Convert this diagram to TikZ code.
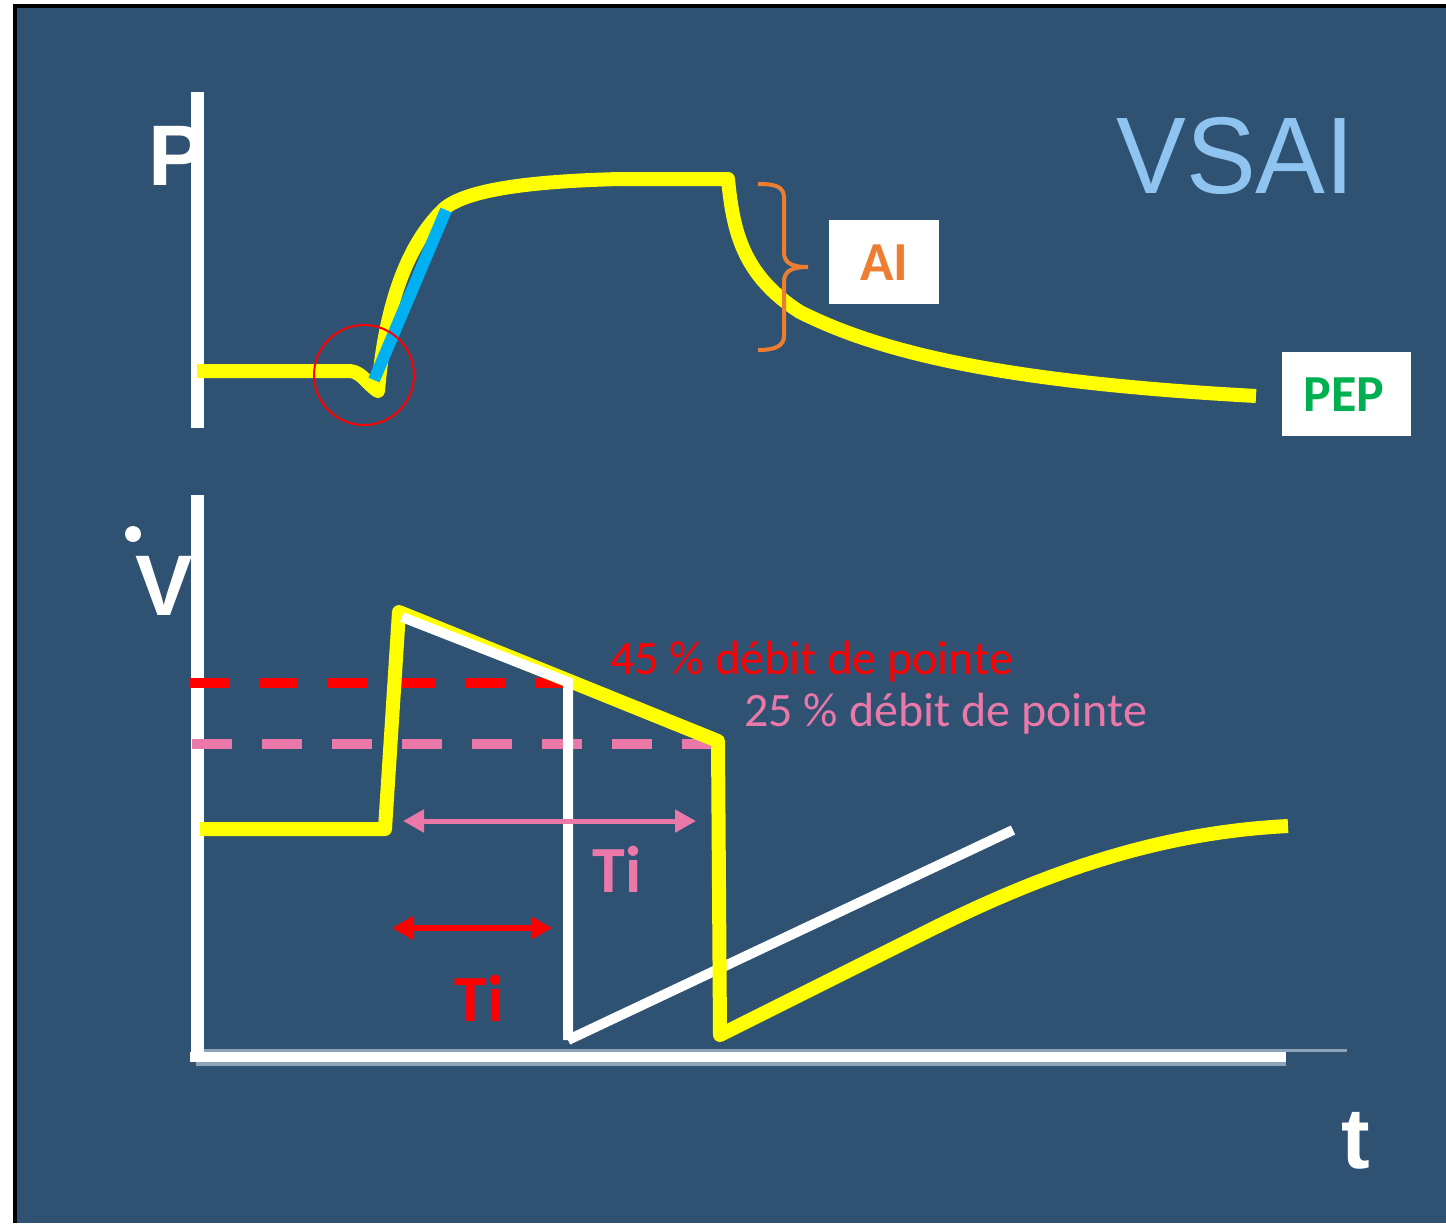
\documentclass[tikz,border=0pt]{standalone}
\usepackage{fontspec}
\setmainfont{Liberation Sans}
\newfontfamily\calib{Carlito}
\usetikzlibrary{arrows.meta}
\definecolor{bgblue}{RGB}{47,82,115}
\definecolor{ylw}{RGB}{255,255,0}
\definecolor{cyanl}{RGB}{0,176,240}
\definecolor{orng}{RGB}{237,125,49}
\definecolor{grn}{RGB}{0,176,80}
\definecolor{pinkc}{RGB}{234,120,168}
\definecolor{vsai}{RGB}{143,196,240}
\definecolor{axgray}{RGB}{142,163,184}
\tikzset{
  axisline/.style={draw=white, line width=6.5pt},
  curve/.style={draw=ylw, line width=7pt, line join=round},
  whiteline/.style={draw=white, line width=5pt},
  reddash/.style={draw=red, line width=5pt, dash pattern=on 19.5pt off 15pt},
  pinkdash/.style={draw=pinkc, line width=5pt, dash pattern=on 20pt off 15pt},
  bigletter/.style={text=white, font=\fontsize{43}{43}\selectfont\bfseries, inner sep=0pt},
  labelbox/.style={fill=white, inner sep=0pt, minimum width=55pt, minimum height=42pt},
  dblarrow/.style={{Triangle[length=10.5pt,width=11pt]}-{Triangle[length=10.5pt,width=11pt]}},
}
\begin{document}
\begin{tikzpicture}[x=0.5pt,y=-0.5pt]
\useasboundingbox (0,0) rectangle (1446,1223);
\fill[white] (0,0) rectangle (1446,1223);
\fill[bgblue] (15,6) rectangle (1446,1223);
\fill[black] (13,4) rectangle (1446,8);
\fill[black] (13,4) rectangle (17,1223);

% title
\node[anchor=base west, inner sep=0pt, text=vsai, font=\fontsize{54.5}{54.5}\selectfont, xscale=0.96] (title) at (1116,193) {VSAI};

% axis letters
\node[bigletter, anchor=base west] (plabel) at (148,185) {P};
\node[bigletter, anchor=base west] (vlabel) at (135,615) {V};
\fill[white] (133,534) circle (8);
\node[bigletter, anchor=base west] (tlabel) at (1341,1168) {t};

% axes
\draw[axisline] (197,92) -- (197,428);
\draw[axisline] (197,495) -- (197,1058);
\draw[draw=axgray, line width=1.5pt] (204,1050) -- (1347,1050);
\draw[draw=axgray, line width=2pt] (196,1064) -- (1286,1064);
\draw[draw=white, line width=5pt] (190,1057) -- (1286,1057);

% pressure curve
\draw[curve] (197,371) -- (350,371) .. controls (362,372) and (368,385) .. (378,391)
  .. controls (383,330) and (398,252) .. (445,208)
  .. controls (470,188) and (540,181) .. (620,179) -- (728,179)
  .. controls (733,230) and (742,275) .. (800,312)
  .. controls (880,352) and (1000,382) .. (1256,396);
\draw[draw=cyanl, line width=6pt] (374,380) -- (446,210);
\draw[draw=red, line width=1pt] (364,375) circle (50);

% brace + AI
\draw[draw=orng, line width=2pt] (758,184) .. controls (775,184) and (784,186) .. (784,198) -- (784,252)
  .. controls (784,262) and (790,267) .. (808,267)
  .. controls (790,267) and (784,272) .. (784,282) -- (784,336)
  .. controls (784,346) and (775,350) .. (758,350);
\node[labelbox] (aibox) at (884,262) {};
\node[anchor=base, inner sep=0pt, text=orng, font=\calib\fontsize{27.5}{27.5}\selectfont\bfseries] (ai) at (884,280) {AI};
\node[labelbox, minimum width=64.5pt] (pepbox) at (1346.5,394) {};
\node[anchor=base, inner sep=0pt, text=grn, font=\calib\fontsize{26}{26}\selectfont\bfseries] (pep) at (1344,411) {PEP};

% flow graph
\draw[reddash] (190,683) -- (568,683);
\draw[pinkdash] (192,744) -- (720,744);
\draw[whiteline] (568,1040) -- (1013,830);
\draw[curve] (200,829) -- (385,829) -- (399,612) -- (718,741) -- (720,1035) -- (930,930)
  .. controls (1060,865) and (1170,832) .. (1288,826);
\draw[whiteline, line join=miter] (402,617) -- (568,682) -- (568,1040);

% labels
\node[anchor=base west, inner sep=0pt, text=red, font=\calib\fontsize{24}{24}\selectfont] (l45) at (610,674) {45 \% débit de pointe};
\node[anchor=base west, inner sep=0pt, text=pinkc, font=\calib\fontsize{24}{24}\selectfont] (l25) at (744,726) {25 \% débit de pointe};

\coordinate (pa) at (403,821);
\coordinate (pb) at (696,821);
\draw[dblarrow, draw=pinkc, fill=pinkc, line width=2.5pt] (pa) -- (pb);
\node[anchor=base, inner sep=0pt, text=pinkc, font=\calib\fontsize{33}{33}\selectfont\bfseries] (tipink) at (617,892) {Ti};

\coordinate (ra) at (392,928);
\coordinate (rb) at (552,928);
\draw[dblarrow, draw=red, fill=red, line width=3pt] (ra) -- (rb);
\node[anchor=base, inner sep=0pt, text=red, font=\calib\fontsize{33}{33}\selectfont\bfseries] (tired) at (479,1021) {Ti};
\end{tikzpicture}
\end{document}
